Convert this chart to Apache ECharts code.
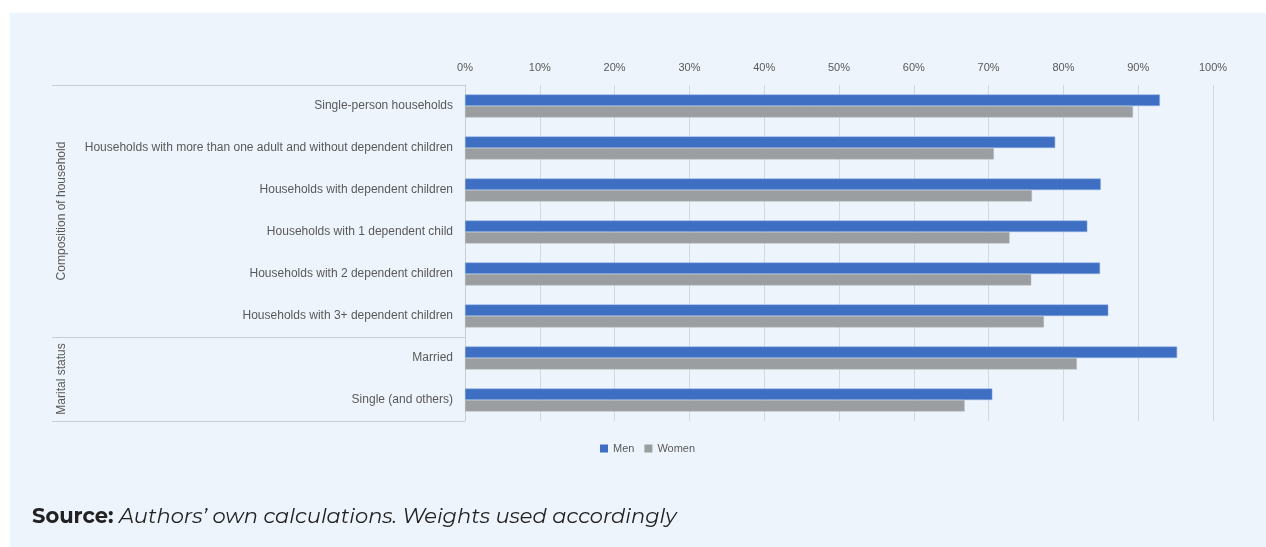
<!DOCTYPE html>
<html>
<head>
<meta charset="utf-8">
<script src="https://cdn.jsdelivr.net/npm/echarts@6/dist/echarts.min.js"></script>
<style>
html,body{margin:0;padding:0;background:#ffffff;}
#panel{position:absolute;left:10px;top:13px;width:1256px;height:534px;background:#EDF4FC;}
#chart{position:absolute;left:0;top:0;width:1266px;height:547px;}
</style>
</head>
<body>
<div id="panel"></div>
<div id="chart"></div>
<script>
const categories = [
  'Single-person households',
  'Households with more than one adult and without dependent children',
  'Households with dependent children',
  'Households with 1 dependent child',
  'Households with 2 dependent children',
  'Households with 3+ dependent children',
  'Married',
  'Single (and others)'
];
const men   = [92.9, 78.9, 85.0, 83.2, 84.9, 86.0, 95.2, 70.5];
const women = [89.3, 70.7, 75.8, 72.8, 75.7, 77.4, 81.8, 66.8];
const groups = ['Composition of household', 'Marital status'];
const groupSizes = [6, 2];
const seriesNames = ['Men', 'Women'];

const chart = echarts.init(document.getElementById('chart'), null, {renderer: 'canvas'});
const font = 'Liberation Sans';
const gridLeft = 465, gridTop = 85, gridRight = 53, gridH = 336;
const rowH = gridH / categories.length;
const lineColor = '#c9ced4';
const graphics = [];
let acc = 0;
const sepYs = [gridTop];
groupSizes.forEach(n => { acc += n; sepYs.push(gridTop + acc * rowH); });
sepYs.forEach(y => graphics.push({type:'line', shape:{x1:52, y1:Math.round(y)+0.5, x2:gridLeft, y2:Math.round(y)+0.5}, style:{stroke:lineColor, lineWidth:1}, silent:true}));
acc = 0;
groups.forEach((g, i) => {
  const yc = gridTop + (acc + groupSizes[i] / 2) * rowH;
  acc += groupSizes[i];
  graphics.push({type:'text', x:62, y:yc, rotation:Math.PI/2,
    style:{text:g, font:'12px "' + font + '"', fill:'#595959', align:'center', verticalAlign:'middle'}, silent:true});
});
graphics.push({type:'text', left:32, top:506,
  style:{rich:{b:{fontFamily:'Montserrat, "Noto Sans", sans-serif', fontWeight:'bold', fontSize:21, fill:'#222'},
               i:{fontFamily:'Montserrat, "Noto Sans", sans-serif', fontStyle:'italic', fontSize:21, fill:'#222'}},
         text:'{b|Source:}{i| Authors\u2019 own calculations. Weights used accordingly}'}, silent:true});

chart.setOption({
  animation:false,
  textStyle:{fontFamily:font},
  grid:{left:gridLeft, top:gridTop, right:gridRight, height:gridH, containLabel:false},
  legend:{data:seriesNames, left:595, top:438, itemWidth:8, itemHeight:8, itemGap:10,
    icon:'rect', itemStyle:{borderWidth:0},
    textStyle:{fontSize:11, color:'#595959', fontFamily:font}},
  xAxis:{type:'value', position:'top', min:0, max:100, interval:10,
    axisLine:{show:false}, axisTick:{show:false},
    axisLabel:{formatter:'{value}%', fontSize:11, color:'#595959', margin:12},
    splitLine:{lineStyle:{color:'#d3d8de', width:1}}},
  yAxis:{type:'category', data:categories, inverse:true,
    axisLine:{show:true, lineStyle:{color:lineColor}}, axisTick:{show:false},
    axisLabel:{fontSize:12, color:'#595959', margin:12}},
  series:[
    {name:seriesNames[0], type:'bar', data:men, barWidth:11.5, barGap:'0%',
      itemStyle:{color:'#3F6FC3', borderColor:'#8fb0e6', borderWidth:0.5}},
    {name:seriesNames[1], type:'bar', data:women, barWidth:11.5, barGap:'0%',
      itemStyle:{color:'#9A9EA1', borderColor:'#b6babd', borderWidth:0.5}}
  ],
  graphic:graphics
});
</script>
</body>
</html>
